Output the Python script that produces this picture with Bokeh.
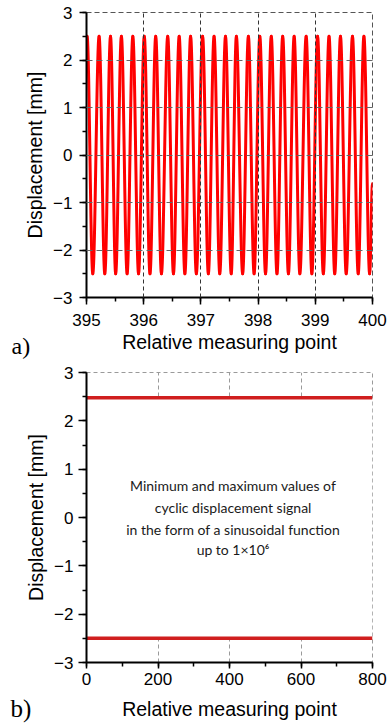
from bokeh.plotting import figure
from bokeh.layouts import column
from bokeh.models import (SingleIntervalTicker, FixedTicker, Label, BoxAnnotation,
                          Range1d, ColumnDataSource)
from bokeh.embed import file_html
from bokeh.resources import INLINE

# ---------------- data ----------------
# panel a): sinusoidal displacement signal, extrema positions
a_start = (395.0, 2.2)
a_end = (400.0, -0.6)
peak_x = [395.01, 395.22, 395.42, 395.61, 395.81,
          396.01, 396.21, 396.42, 396.62, 396.82,
          397.03, 397.23, 397.43, 397.62, 397.83,
          398.03, 398.23, 398.43, 398.63, 398.84,
          399.04, 399.24, 399.44, 399.65, 399.85]
trough_x = [395.11, 395.32, 395.51, 395.71, 395.91,
            396.11, 396.31, 396.52, 396.72, 396.92,
            397.13, 397.33, 397.53, 397.73, 397.93,
            398.13, 398.33, 398.53, 398.73, 398.94,
            399.14, 399.34, 399.54, 399.75, 399.95]
peak_value = 2.5
trough_value = -2.5

a_x_ticks = [395, 396, 397, 398, 399, 400]
a_y_ticks = [-3, -2, -1, 0, 1, 2, 3]

# panel b): minimum and maximum values over relative measuring points
b_x = [0, 800]
b_max = [2.48, 2.48]
b_min = [-2.50, -2.50]
b_x_ticks = [0, 200, 400, 600, 800]
b_note = ["Minimum and maximum values of",
          "cyclic displacement signal",
          "in the form of a sinusoidal function",
          "up to 1\u00d710\u2076"]
tags = ["a)", "b)"]

# ---------------- helpers ----------------
TICK_FONT = "Liberation Sans"
TITLE_FONT = "Liberation Sans"


def style_axes(p, left_out, left_stand, left_title_stand, bot_out, bot_stand, bot_title_stand):
    for ax in (p.xaxis[0], p.yaxis[0]):
        ax.axis_line_width = 2
        ax.axis_line_color = "black"
        ax.major_tick_line_width = 1.5
        ax.minor_tick_line_width = 1.5
        ax.major_tick_in = 0
        ax.minor_tick_in = 0
        ax.minor_tick_out = 4
        ax.major_label_text_font = TICK_FONT
        ax.major_label_text_font_size = "17px"
        ax.major_label_text_color = "black"
        ax.axis_label_text_font = TITLE_FONT
        ax.axis_label_text_font_size = "19.5px"
        ax.axis_label_text_font_style = "normal"
        ax.axis_label_text_color = "black"
    p.yaxis[0].major_tick_out = left_out
    p.yaxis[0].major_label_standoff = left_stand
    p.yaxis[0].axis_label_standoff = left_title_stand
    p.xaxis[0].major_tick_out = bot_out
    p.xaxis[0].major_label_standoff = bot_stand
    p.xaxis[0].axis_label_standoff = bot_title_stand


# ---------------- panel a ----------------
p1 = figure(width=391, height=360, x_range=Range1d(395, 400), y_range=Range1d(-3, 3),
            output_backend="svg", toolbar_location=None,
            min_border_left=86, min_border_right=19, min_border_top=12, min_border_bottom=63,
            x_axis_label="Relative measuring point", y_axis_label="Displacement [mm]")
p1.xaxis.ticker = SingleIntervalTicker(interval=1, num_minor_ticks=2)
p1.yaxis.ticker = SingleIntervalTicker(interval=1, num_minor_ticks=2)
style_axes(p1, 7, 7, 4, 7, 9, 2)
p1.outline_line_color = "#555555"
p1.outline_line_dash = "5 3"
p1.outline_line_width = 1
p1.xgrid.ticker = FixedTicker(ticks=a_x_ticks[1:-1])
p1.ygrid.ticker = FixedTicker(ticks=a_y_ticks[1:-1])
p1.xgrid.grid_line_color = "#333333"
p1.xgrid.grid_line_dash = "4 3"
p1.ygrid.grid_line_color = "#666666"
p1.ygrid.grid_line_dash = "6 4"
p1.xgrid.level = "overlay"
p1.ygrid.level = "overlay"

# sequence of extrema, joined by horizontal-tangent cubic curves (sinusoid shape)
pts = [a_start]
for px, tx in zip(peak_x, trough_x):
    pts.append((px, peak_value))
    pts.append((tx, trough_value))
pts.append(a_end)
K = 0.3634
seg = dict(x0=[], y0=[], x1=[], y1=[], cx0=[], cy0=[], cx1=[], cy1=[])
for (xa, ya), (xb, yb) in zip(pts[:-1], pts[1:]):
    w = xb - xa
    seg["x0"].append(xa); seg["y0"].append(ya)
    seg["x1"].append(xb); seg["y1"].append(yb)
    seg["cx0"].append(xa + K * w); seg["cy0"].append(ya)
    seg["cx1"].append(xb - K * w); seg["cy1"].append(yb)
p1.bezier(x0="x0", y0="y0", x1="x1", y1="y1", cx0="cx0", cy0="cy0", cx1="cx1", cy1="cy1",
          source=ColumnDataSource(seg), line_color="#ff0000", line_width=3, line_cap="round")

# panel tag placed in the left side panel (outside the frame, not clipped)
p1.add_layout(Label(x=9, y=-48, x_units="screen", y_units="screen", text=tags[0],
                    text_font="Liberation Serif", text_font_size="24px",
                    text_baseline="alphabetic", text_color="black"), "left")

# ---------------- panel b ----------------
p2 = figure(width=391, height=364, x_range=Range1d(0, 800), y_range=Range1d(-3, 3),
            output_backend="svg", toolbar_location=None,
            min_border_left=86, min_border_right=13, min_border_top=12, min_border_bottom=62,
            x_axis_label="Relative measuring point", y_axis_label="Displacement [mm]")
p2.xaxis.ticker = SingleIntervalTicker(interval=200, num_minor_ticks=2)
p2.yaxis.ticker = SingleIntervalTicker(interval=1, num_minor_ticks=2)
style_axes(p2, 8, 5, 4, 6, 4, 10)
p2.outline_line_color = "#9a9a9a"
p2.outline_line_dash = "4 3"
p2.outline_line_width = 1
p2.xgrid.ticker = FixedTicker(ticks=b_x_ticks[1:-1])
p2.xgrid.grid_line_color = "#9a9a9a"
p2.xgrid.grid_line_dash = "4 3"
p2.ygrid.visible = False

p2.add_layout(BoxAnnotation(bottom=b_min[0], top=b_max[0], fill_color="white", fill_alpha=1,
                            line_alpha=0, level="underlay"))
p2.line(b_x, b_max, line_color="#d01e1e", line_width=3.5)
p2.line(b_x, b_min, line_color="#d01e1e", line_width=3.5)

for txt, yy in zip(b_note, [0.662, 0.207, -0.248, -0.662]):
    p2.add_layout(Label(x=410, y=yy, text=txt, text_align="center", text_baseline="middle",
                        text_font="Lato", text_font_size="14px", text_color="#1a1a1a"))

p2.add_layout(Label(x=9, y=-46, x_units="screen", y_units="screen", text=tags[1],
                    text_font="Liberation Serif", text_font_size="25px",
                    text_baseline="alphabetic", text_color="black"), "left")

layout = column(p1, p2, spacing=0)
open("out.html", "w").write(file_html(layout, INLINE))
